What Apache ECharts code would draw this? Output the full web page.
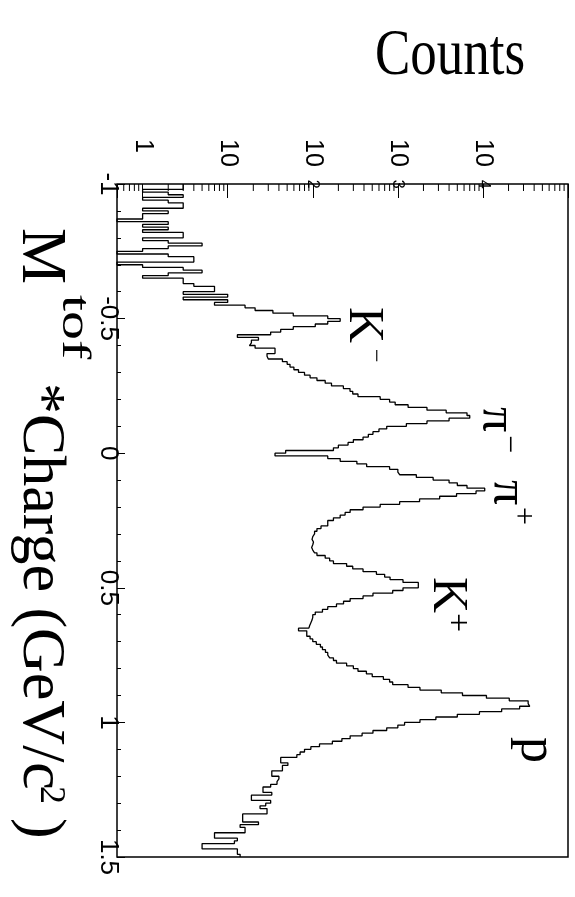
<!DOCTYPE html>
<html><head><meta charset="utf-8">
<script src="https://cdn.jsdelivr.net/npm/echarts@6/dist/echarts.min.js"></script>
<style>html,body{margin:0;padding:0;background:#fff}#c{width:575px;height:897px}</style>
</head><body><div id="c"></div>
<script>
// Histogram of M_tof * Charge, bins of 0.01 GeV/c^2 from -1 to 1.5
const binStart = -1.0;
const binWidth = 0.01;
const counts = [
  3,3,1,2,3,1,2,3,3,1,
  2,1,1,0,2,1,2,1,3,3,
  1,2,5,2,1,0,2,4,4,0,
  1,3,5,2,1,3,3,4,7,7,
  3,10,3,10,7,16,21,34,59,150,
  210,150,107,59,42,32,13,23,19,18,
  21,36,36,29,30,44,50,54,60,68,
  80,93,112,140,166,229,274,295,340,620,
  800,930,1320,2200,3700,6500,7000,4000,2200,1260,
  740,600,510,450,390,300,260,200,175,48,
  36,150,210,330,430,800,1000,1050,1650,2600,
  4000,5000,6500,10500,8300,4900,3100,1800,1050,620,
  390,275,240,210,175,150,150,125,112,105,
  100,98,102,100,97,100,105,112,140,158,
  175,250,295,390,560,700,810,1150,1740,1740,
  1150,870,510,390,275,230,190,150,130,107,
  100,98,95,92,90,68,85,85,93,100,
  110,123,130,141,150,158,175,190,250,300,
  340,427,500,676,800,870,1318,1820,3236,5750,
  11000,20400,34000,35500,27000,16600,9100,5000,2800,1820,
  1200,1000,740,510,380,275,220,170,120,95,
  80,71,65,42,42,51,44,44,33,33,
  40,38,38,32,26,26,33,19,19,32,
  28,24,29,29,15,15,15,23,14,16,
  16,7,7,13,12,5,5,13,13,14
];
const countMin = 0.5;
const countMax = 100000;
const countDecadeTicks = [1, 10, 100, 1000, 10000];
const countDecadeLabels = ['1', '10', '{b|10}{s|2}', '{b|10}{s|3}', '{b|10}{s|4}'];
const countMinorTicks = [0.6,0.7,0.8,0.9, 2,3,4,5,6,7,8,9, 20,30,40,50,60,70,80,90,
  200,300,400,500,600,700,800,900, 2000,3000,4000,5000,6000,7000,8000,9000,
  20000,30000,40000,50000,60000,70000,80000,90000];
const massMin = -1, massMax = 1.5, massInterval = 0.5;

// step outline points (count, mass)
const stepPoints = [];
counts.forEach(function (c, i) {
  const lo = binStart + i * binWidth, hi = lo + binWidth;
  const v = c > 0 ? c : countMin;
  stepPoints.push([v, +lo.toFixed(4)], [v, +hi.toFixed(4)]);
});

const chart = echarts.init(document.getElementById('c'), null, {renderer: 'canvas'});
const SERIF = '"Liberation Serif", "Times New Roman", serif';
const SANS = '"Liberation Sans", Arial, sans-serif';
const R = -Math.PI / 2;
function vt(text, x, y, size, sx) {
  return {type: 'text', x: x, y: y, rotation: R, scaleX: sx || 1,
    style: {text: text, fontFamily: SERIF, fontSize: size, fill: '#000', align: 'left', verticalAlign: 'middle'}};
}

chart.setOption({
  animation: false,
  backgroundColor: '#fff',
  grid: {left: 117, top: 184, width: 451, height: 673, show: true, borderColor: '#000', borderWidth: 1.5, backgroundColor: 'transparent'},
  xAxis: {
    type: 'log', logBase: 10, min: countMin, max: countMax, position: 'top',
    axisLine: {show: false, onZero: false},
    splitLine: {show: false},
    axisTick: {show: true, inside: true, length: 14, lineStyle: {color: '#000', width: 1}},
    axisLabel: {
      rotate: 90, align: 'left', verticalAlign: 'middle', margin: 45,
      fontFamily: SANS, fontSize: 25, color: '#000',
      formatter: function (v) {
        const k = countDecadeTicks.findIndex(function (t) { return Math.abs(t - v) / t < 1e-6; });
        return k >= 0 ? countDecadeLabels[k] : '';
      },
      rich: {b: {fontFamily: SANS, fontSize: 25, color: '#000'}, s: {fontFamily: SANS, fontSize: 16, color: '#000', padding: [0, 0, 0, 13]}}
    }
  },
  yAxis: {
    type: 'value', inverse: true, min: massMin, max: massMax, interval: massInterval,
    axisLine: {show: false, onZero: false},
    splitLine: {show: false},
    axisTick: {show: true, inside: true, length: 8, lineStyle: {color: '#000', width: 1}},
    minorTick: {show: true, splitNumber: 5, length: 4, lineStyle: {color: '#000', width: 1}},
    axisLabel: {
      rotate: -90, align: 'center', verticalAlign: 'middle', margin: 9,
      fontFamily: SANS, fontSize: 26, color: '#000',
      formatter: function (v) { return String(v); }
    }
  },
  series: [
    {
      type: 'line', data: stepPoints, showSymbol: false, symbol: 'none',
      lineStyle: {color: '#000', width: 1.3}, clip: true, z: 3
    },
    {
      type: 'custom', coordinateSystem: 'cartesian2d', silent: true, z: 4,
      data: countMinorTicks.map(function (v) { return [v, massMin]; }),
      renderItem: function (params, api) {
        const p = api.coord([api.value(0), api.value(1)]);
        return {type: 'line', shape: {x1: p[0], y1: p[1], x2: p[0], y2: p[1] + 7}, style: {stroke: '#000', lineWidth: 1}};
      }
    }
  ],
  graphic: [
    {type: 'text', x: 375, y: 23, scaleY: 1.25, style: {text: 'Counts', fontFamily: SERIF, fontSize: 53, fill: '#000', align: 'left', verticalAlign: 'top'}},
    vt('M', 40, 228, 63),
    vt('tof', 73, 295, 40, 1.45),
    vt('*Charge (GeV/c', 40, 383, 62),
    vt('2', 50, 786, 36),
    vt(')', 40, 818, 62),
    vt('K', 363, 307, 50),
    vt('\u2212', 375, 349, 24),
    vt('\u03c0', 496, 407, 50),
    vt('\u2212', 508, 435, 32),
    vt('\u03c0', 507, 480, 50),
    vt('+', 522, 507, 32),
    vt('K', 447, 577, 50),
    vt('+', 457, 613, 34),
    vt('p', 536, 737, 52)
  ]
});
</script></body></html>
